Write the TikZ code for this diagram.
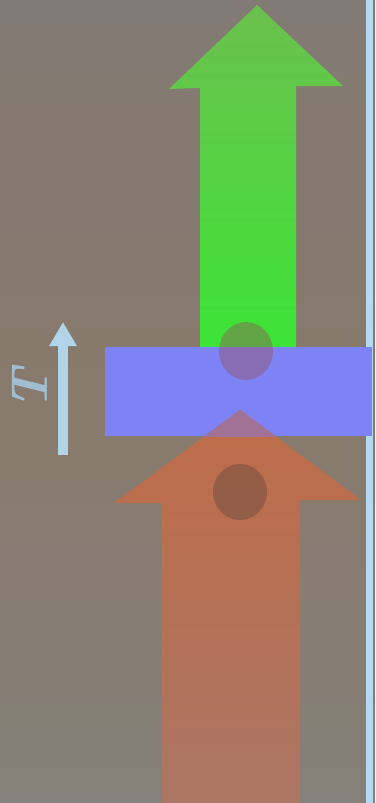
\documentclass[tikz,border=0pt]{standalone}
\usetikzlibrary{arrows.meta}
\definecolor{bgtop}{RGB}{130,122,116}
\definecolor{bgmid}{RGB}{136,122,108}
\definecolor{bgbot}{RGB}{133,128,121}
\definecolor{greenhead}{RGB}{108,192,78}
\definecolor{greenshaft}{RGB}{60,228,55}
\definecolor{barblue}{RGB}{125,130,245}
\definecolor{orangetop}{RGB}{190,108,72}
\definecolor{orangebot}{RGB}{172,118,100}
\definecolor{mauve}{RGB}{162,114,150}
\definecolor{spotA}{RGB}{150,80,90}
\definecolor{spotB}{RGB}{60,55,55}
\definecolor{tcol}{RGB}{178,212,232}
\definecolor{tlabel}{RGB}{160,190,208}
\definecolor{edge}{RGB}{180,218,242}
\tikzset{
  spotgreen/.style={fill=spotA, fill opacity=0.42},
  spotorange/.style={fill=spotB, fill opacity=0.3},
  tarrow/.style={draw=tcol, line width=10pt, -{Triangle[width=26pt,length=24pt]}},
}
\def\orangepath{(240,410) -- (361,500) -- (300,500) -- (300,803) -- (162,803) -- (162,503) -- (114,503) -- cycle}
\begin{document}
\begin{tikzpicture}[x=1pt,y=-1pt]
\shade[top color=bgtop, bottom color=bgbot, middle color=bgmid] (0,0) rectangle (375,803);
\useasboundingbox (0,0) rectangle (375,803);
% right edge line
\fill[edge] (366,0) rectangle (373,803);
% green arrow
\shade[top color=greenhead, bottom color=greenshaft] (257,5) -- (343,86) -- (296,86) -- (296,352) -- (200,352) -- (200,88) -- (169,89) -- cycle;
% blue bar
\fill[barblue] (105,347) rectangle (372,436);
% spot on green
\fill[spotgreen] (246,351) ellipse [x radius=27, y radius=29];
% orange arrow
\shade[top color=orangetop, bottom color=orangebot] \orangepath;
\begin{scope}
  \clip (105,347) rectangle (372,436);
  \fill[mauve] \orangepath;
\end{scope}
% spot on orange
\fill[spotorange] (240,492) ellipse [x radius=27, y radius=28];
% T arrow
\coordinate (tbot) at (63,455);
\coordinate (ttop) at (63,322);
\draw[tarrow] (tbot) -- (ttop);
\node[text=tlabel, rotate=90, font=\fontsize{52}{52}\selectfont\bfseries\itshape] (tlab) at (30,390) {T};
\end{tikzpicture}
\end{document}
